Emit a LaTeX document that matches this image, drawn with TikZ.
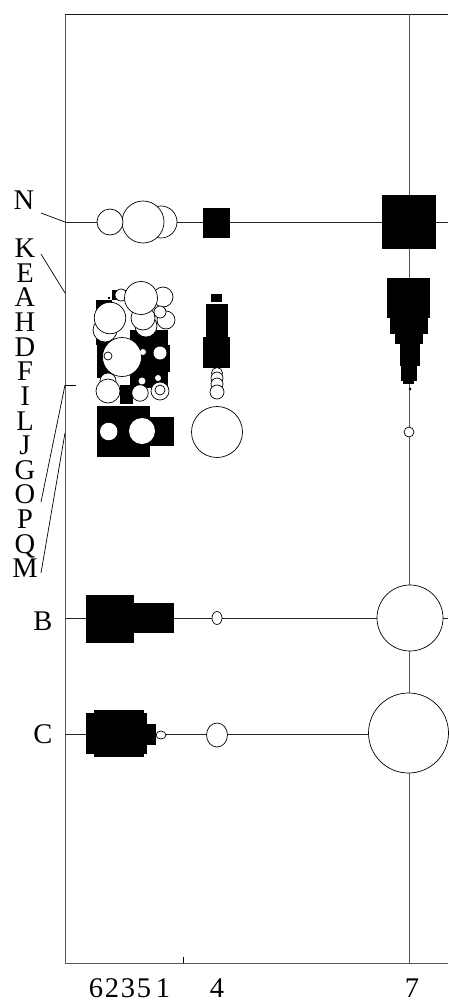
\documentclass[tikz,border=0pt]{standalone}
\usepackage{fontspec}
\setmainfont{Liberation Serif}
\usetikzlibrary{shapes.geometric}
\begin{document}
\begin{tikzpicture}[x=1pt,y=-1pt,
  frame/.style={draw=black!65, line width=1pt},
  rowline/.style={draw=black!85, line width=0.9pt},
  lead/.style={draw=black, line width=0.7pt},
  wc/.style={circle, draw=black, fill=white, line width=0.7pt, inner sep=0pt, outer sep=0pt},
  we/.style={ellipse, draw=black, fill=white, line width=0.7pt, inner sep=0pt, outer sep=0pt},
  bk/.style={fill=black, inner sep=0pt, outer sep=0pt, anchor=north west},
  lab/.style={font=\fontsize{28.5}{28.5}\selectfont, inner sep=0pt, anchor=base}]
\useasboundingbox (0,0) rectangle (448,1001);
% frame coordinates
\coordinate (TL) at (65,14);
\coordinate (TR) at (448,14);
\coordinate (BL) at (65,963);
\coordinate (BR) at (448,963);
\coordinate (V7t) at (409,14);
\coordinate (V7b) at (409,963);
\coordinate (T4t) at (183,957);
\coordinate (T4b) at (183,963);
\coordinate (Nl) at (65,222);
\coordinate (Nr) at (448,222);
\coordinate (Bl) at (65,618);
\coordinate (Br) at (448,618);
\coordinate (Cl) at (65,734);
\coordinate (Cr) at (448,734);
% leader coordinates
\coordinate (nN) at (41,213);
\coordinate (aN) at (65,222);
\coordinate (nK) at (41,254);
\coordinate (aK) at (65,293);
\coordinate (aT1) at (65,385);
\coordinate (aT2) at (76,385);
\coordinate (nO) at (41,502);
\coordinate (nM) at (41,573);
\coordinate (aM) at (65,433);
% lines
\draw[frame] (BR) -- (BL) -- (TL);
\draw[draw=black!90, line width=1pt] (TL) -- (TR);
\draw[frame] (V7t) -- (V7b);
\draw[lead] (T4t) -- (T4b);
\draw[rowline] (Nl) -- (Nr);
\draw[rowline] (Bl) -- (Br);
\draw[rowline] (Cl) -- (Cr);
\draw[lead] (nN) -- (aN);
\draw[lead] (nK) -- (aK);
\draw[lead] (aT1) -- (aT2);
\draw[lead] (nO) -- (aT1);
\draw[lead] (nM) -- (aM);
% labels
\node[lab] (lN) at (24,209.4) {N};
\node[lab] (lK) at (25,257.4) {K};
\node[lab] (lE) at (25,282.1) {E};
\node[lab] (lA) at (25,306.7) {A};
\node[lab] (lH) at (25,331.4) {H};
\node[lab] (lD) at (25,356) {D};
\node[lab] (lF) at (25,380.7) {F};
\node[lab] (lI) at (25,405.3) {I};
\node[lab] (lL) at (25,430) {L};
\node[lab] (lJ) at (25,454.6) {J};
\node[lab] (lG) at (25,479.3) {G};
\node[lab] (lO) at (25,503.9) {O};
\node[lab] (lP) at (25,528.6) {P};
\node[lab] (lQ) at (25,553.2) {Q};
\node[lab] (lM) at (25,577.9) {M};
\node[lab] (lB) at (43,630) {B};
\node[lab] (lC) at (43,743) {C};
\node[lab] (x6) at (96,997) {6};
\node[lab] (x2) at (112,997) {2};
\node[lab] (x3) at (128,997) {3};
\node[lab] (x5) at (144,997) {5};
\node[lab] (x1) at (163,997) {1};
\node[lab] (x4) at (217,997) {4};
\node[lab] (x7) at (412,997) {7};
% ---- row N
\node[wc, minimum size=32] (n3) at (161,222) {};
\node[wc, minimum size=42] (n2) at (143,222) {};
\node[wc, minimum size=26] (n1) at (110,222) {};
\node[bk, minimum width=27, minimum height=30] (n4) at (203,208) {};
\node[bk, minimum width=54, minimum height=54] (n7) at (382,195) {};
% ---- column 7 stepped
\node[bk, minimum width=43, minimum height=39.5] (s1) at (387,278) {};
\node[bk, minimum width=38, minimum height=16.5] (s2) at (390,317) {};
\node[bk, minimum width=28, minimum height=10.5] (s3) at (395,333) {};
\node[bk, minimum width=20, minimum height=22.5] (s4) at (400,343) {};
\node[bk, minimum width=16, minimum height=15.5] (s5) at (401,365) {};
\node[bk, minimum width=11, minimum height=4] (s6) at (403,380) {};
\node[circle, fill=black, inner sep=0pt, minimum size=3] (s7) at (410,389) {};
\node[wc, minimum size=10] (s8) at (409,432) {};
% ---- column 4
\node[bk, minimum width=11, minimum height=8] (f1) at (211,294) {};
\node[bk, minimum width=22, minimum height=33] (f2) at (206,304) {};
\node[bk, minimum width=27, minimum height=31.5] (f3) at (203,336.5) {};
\node[wc, minimum size=11] (f4) at (217,373) {};
\node[wc, minimum size=12] (f5) at (217,378) {};
\node[wc, minimum size=12] (f6) at (217,384) {};
\node[wc, minimum size=14] (f7) at (217,392) {};
\node[wc, minimum size=51] (f8) at (217,432) {};
% ---- cluster
\node[bk, minimum width=14, minimum height=10] (k1) at (112,290) {};
\node[bk, minimum width=2.5, minimum height=2.5] (k2) at (107.5,296.5) {};
\node[bk, minimum width=16, minimum height=45] (k3) at (96,300) {};
\node[bk, minimum width=15, minimum height=38] (k4) at (97,340) {};
\node[bk, minimum width=38, minimum height=58] (k5) at (130,330) {};
\node[bk, minimum width=3, minimum height=27] (k6) at (167,345) {};
\node[bk, minimum width=13, minimum height=19] (k7) at (120,385) {};
\node[wc, minimum size=20] (c1) at (163,297) {};
\node[wc, minimum size=12] (c2) at (121,295) {};
\node[wc, minimum size=24] (c3) at (105,330) {};
\node[wc, minimum size=18] (c4) at (166,320) {};
\node[wc, minimum size=12] (c5) at (160,312) {};
\node[wc, minimum size=22] (c6) at (146,326) {};
\node[wc, minimum size=24] (c7) at (143,318) {};
\node[wc, minimum size=33] (c8) at (141,298) {};
\node[wc, minimum size=31.5] (c9) at (110,318) {};
\node[wc, minimum size=16] (c10) at (108,381) {};
\node[wc, minimum size=24] (c11) at (108,391) {};
\node[wc, minimum size=16.5] (c12) at (140,393) {};
\node[wc, minimum size=18] (c13) at (160,391) {};
\node[wc, minimum size=10] (c14) at (160,390) {};
\node[wc, minimum size=8] (c15) at (142,381) {};
\node[wc, minimum size=7] (c16) at (158,378) {};
\node[wc, minimum size=39] (c17) at (122,357) {};
\node[wc, minimum size=8] (c18) at (108,356) {};
\node[circle, fill=white, inner sep=0pt, minimum size=13] (c19) at (160,353) {};
\node[circle, fill=white, inner sep=0pt, minimum size=6] (c20) at (143,352) {};
% bottom block of cluster
\node[bk, minimum width=53, minimum height=51] (g1) at (97,406) {};
\node[bk, minimum width=24, minimum height=29] (g2) at (150,417) {};
\node[circle, fill=white, inner sep=0pt, minimum size=17.5] (g3) at (108.7,431.5) {};
\node[circle, fill=white, inner sep=0pt, minimum size=26] (g4) at (142,431) {};
% ---- row B
\node[bk, minimum width=48, minimum height=48] (b1) at (86,595) {};
\node[bk, minimum width=40, minimum height=30] (b2) at (134,603) {};
\node[we, minimum width=10, minimum height=13] (b4) at (217,618) {};
\node[wc, minimum size=66] (b7) at (410,618) {};
% ---- row C
\node[bk, minimum width=8, minimum height=41] (d1) at (86,713) {};
\node[bk, minimum width=50, minimum height=47] (d2) at (94,710) {};
\node[bk, minimum width=4, minimum height=41] (d3) at (143,713) {};
\node[bk, minimum width=9, minimum height=21] (d4) at (147,723.5) {};
\node[we, minimum width=10, minimum height=8] (d5) at (161,735) {};
\node[we, minimum width=21, minimum height=24] (d6) at (217,735) {};
\node[wc, minimum size=80] (d7) at (408.5,733) {};
\end{tikzpicture}
\end{document}
